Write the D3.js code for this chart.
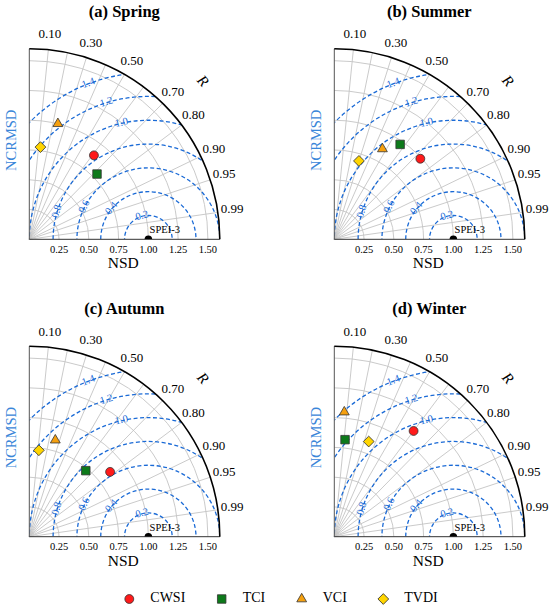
<!DOCTYPE html>
<html>
<head>
<meta charset="utf-8">
<script src="https://cdn.jsdelivr.net/npm/d3@7"></script>
<style>
  body { margin: 0; background: #fff; }
  svg { display: block; }
</style>
</head>
<body>
<div id="chart"></div>
<script>
// seasons (panels) and drought indices
const seasons = ["(a) Spring", "(b) Summer", "(c) Autumn", "(d) Winter"];
const indices = ["CWSI", "TCI", "VCI", "TVDI"];
// normalized standard deviation, one row per season, in indices order
const nsd = [
  [0.89, 0.79, 1.00, 0.78],
  [0.99, 0.97, 0.86, 0.69],
  [0.87, 0.73, 0.84, 0.73],
  [1.11, 0.82, 1.05, 0.85]
];
// correlation with SPEI-3
const corr = [
  [0.61, 0.72, 0.24, 0.12],
  [0.73, 0.57, 0.47, 0.30],
  [0.78, 0.65, 0.26, 0.11],
  [0.60, 0.11, 0.08, 0.34]
];
const sdTicks = [0.25, 0.5, 0.75, 1.0, 1.25, 1.5];
const corrGrid = [0.1, 0.2, 0.3, 0.4, 0.5, 0.6, 0.7, 0.8, 0.9, 0.95, 0.99];
const corrLabels = [0.1, 0.3, 0.5, 0.7, 0.8, 0.9, 0.95, 0.99];
const rmsLevels = [0.2, 0.4, 0.6, 0.8, 1.0, 1.2, 1.4];
const rmsLabelAngle = [105, 140, 153, 163, 103, 107, 111];
const refName = "SPEI-3";

const width = 550, height = 612;
const blue = "#1a6ad6";
const colors = ["#ff1a1a", "#0d7a1a", "#f5a00f", "#ffd500"];
const shapes = ["circle", "square", "triangle", "diamond"];
const origins = [[29.3, 239.3], [334.3, 239.3], [29.3, 536.7], [334.3, 536.7]];

const svg = d3.select("#chart").append("svg")
  .attr("width", width).attr("height", height)
  .attr("font-family", "'Liberation Serif', 'Times New Roman', Times, serif");

const r = d3.scaleLinear().domain([0, 1.6]).range([0, 190.5]);
const deg = Math.PI / 180;

// xy from (sd, angle)
function pol(sd, ang) {
  return [r(sd * Math.cos(ang)), -r(sd * Math.sin(ang))];
}

function marker(g, k, x, y) {
  let sym;
  if (shapes[k] == "circle") sym = d3.symbol(d3.symbolCircle, 62);
  else if (shapes[k] == "square") sym = d3.symbol(d3.symbolSquare, 72);
  else if (shapes[k] == "triangle") sym = d3.symbol(d3.symbolTriangle, 42);
  else sym = d3.symbol(d3.symbolSquare, 58);
  g.append("path")
    .attr("d", sym())
    .attr("transform", "translate(" + x + "," + y + ")" + (shapes[k] == "diamond" ? " rotate(45)" : ""))
    .attr("fill", colors[k])
    .attr("stroke", "#333")
    .attr("stroke-width", 0.8);
}

seasons.forEach(function (title, p) {
  const g = svg.append("g")
    .attr("transform", "translate(" + origins[p][0] + "," + origins[p][1] + ")");

  // clip: quarter disk
  const clipId = "clip" + p;
  g.append("clipPath").attr("id", clipId)
    .append("path")
    .attr("d", "M0,0 L" + r(1.6) + ",0 A" + r(1.6) + "," + r(1.6) + " 0 0 0 0," + (-r(1.6)) + " Z");

  // gray std arcs
  sdTicks.forEach(function (s) {
    g.append("path")
      .attr("d", "M" + r(s) + ",0 A" + r(s) + "," + r(s) + " 0 0 0 0," + (-r(s)))
      .attr("fill", "none").attr("stroke", "#c4c4c4").attr("stroke-width", 0.9);
  });
  // gray correlation rays
  corrGrid.forEach(function (c) {
    const a = Math.acos(c);
    const e = pol(1.6, a);
    g.append("line").attr("x1", 0).attr("y1", 0).attr("x2", e[0]).attr("y2", e[1])
      .attr("stroke", "#c4c4c4").attr("stroke-width", 0.9);
  });

  // RMSD circles
  const rms = g.append("g").attr("clip-path", "url(#" + clipId + ")");
  rmsLevels.forEach(function (lv) {
    rms.append("circle").attr("cx", r(1)).attr("cy", 0).attr("r", r(lv))
      .attr("fill", "none").attr("stroke", blue).attr("stroke-width", 1.3)
      .attr("stroke-dasharray", "4,2.5");
  });
  rmsLevels.forEach(function (lv, i) {
    const phi = rmsLabelAngle[i] * deg;
    const x = r(1 + lv * Math.cos(phi)), y = -r(lv * Math.sin(phi));
    g.append("text").attr("x", x).attr("y", y)
      .attr("transform", "rotate(" + (90 - rmsLabelAngle[i]) + "," + x + "," + y + ")")
      .attr("text-anchor", "middle").attr("dominant-baseline", "middle")
      .attr("font-size", 10.5).attr("fill", blue)
      .text(lv.toFixed(1));
  });

  // axes
  g.append("line").attr("x1", 0).attr("y1", 0).attr("x2", 0).attr("y2", -r(1.6))
    .attr("stroke", "#555").attr("stroke-width", 1);
  g.append("line").attr("x1", 0).attr("y1", 0).attr("x2", r(1.6)).attr("y2", 0)
    .attr("stroke", "#333").attr("stroke-width", 1);
  g.append("path")
    .attr("d", "M" + r(1.6) + ",0 A" + r(1.6) + "," + r(1.6) + " 0 0 0 0," + (-r(1.6)))
    .attr("fill", "none").attr("stroke", "#000").attr("stroke-width", 1.6);

  // reference point
  g.append("g").attr("clip-path", "url(#" + clipId + ")")
    .append("circle").attr("cx", r(1)).attr("cy", 0).attr("r", 3.8).attr("fill", "#000");
  g.append("text").attr("x", r(1.01)).attr("y", -6)
    .attr("font-size", 10.5).attr("fill", "#000").text(refName);

  // sd tick labels
  sdTicks.forEach(function (s) {
    g.append("text").attr("x", r(s)).attr("y", 13.5)
      .attr("text-anchor", "middle").attr("font-size", 10.5).text(s.toFixed(2));
  });
  g.append("text").attr("x", 94).attr("y", 29)
    .attr("text-anchor", "middle").attr("font-size", 15.5).text("NSD");
  g.append("text").attr("transform", "translate(-13," + (-99) + ") rotate(-90)")
    .attr("text-anchor", "middle").attr("font-size", 14.5).attr("fill", "#3a86d9")
    .text("NCRMSD");

  // correlation labels
  corrLabels.forEach(function (c) {
    const e = pol(1.6, Math.acos(c));
    const k = 205 / r(1.6);
    g.append("text").attr("x", e[0] * k).attr("y", e[1] * k)
      .attr("text-anchor", "middle").attr("dominant-baseline", "middle")
      .attr("font-size", 13).text(c.toFixed(2));
  });
  const ra = 42.4 * deg;
  const rx = 233.6 * Math.cos(ra), ry = -233.6 * Math.sin(ra);
  g.append("text").attr("x", rx).attr("y", ry)
    .attr("transform", "rotate(48," + rx + "," + ry + ")")
    .attr("text-anchor", "middle").attr("dominant-baseline", "middle")
    .attr("font-size", 15).attr("font-style", "italic").text("R");

  // title
  g.append("text").attr("x", 95).attr("y", -222.6)
    .attr("text-anchor", "middle").attr("font-size", 16.5).attr("font-weight", "bold")
    .text(title);

  // points
  indices.forEach(function (name, k) {
    const pt = pol(nsd[p][k], Math.acos(corr[p][k]));
    marker(g, k, pt[0], pt[1]);
  });
});

// legend
const legX = [129.3, 221.7, 301.7, 383.3];
const leg = svg.append("g").attr("transform", "translate(0,599)");
indices.forEach(function (name, k) {
  marker(leg, k, legX[k], 0);
  leg.append("text").attr("x", legX[k] + 21).attr("y", 0)
    .attr("dominant-baseline", "middle").attr("font-size", 14).text(name);
});
</script>
</body>
</html>
